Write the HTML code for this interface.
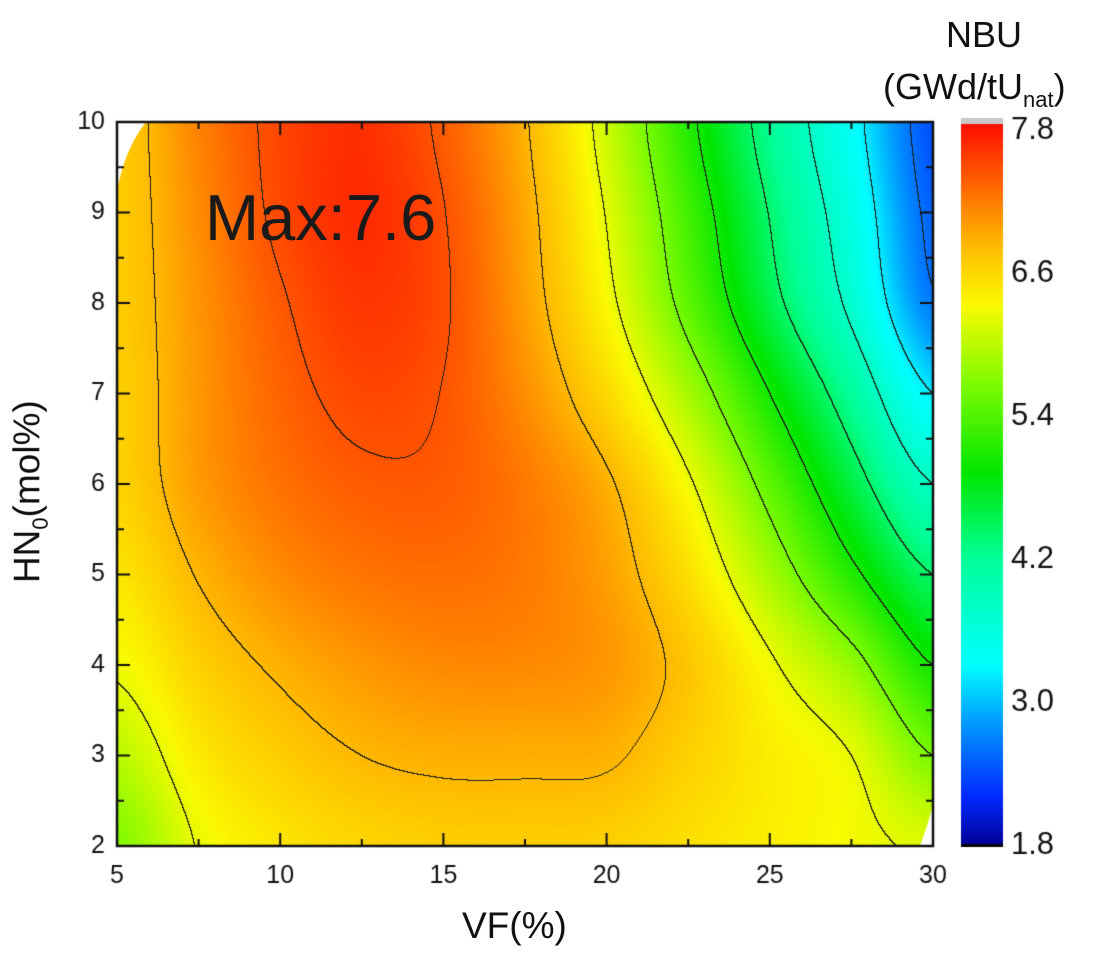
<!DOCTYPE html>
<html><head><meta charset="utf-8">
<style>
html,body{margin:0;padding:0;background:#fff;}
body{width:1104px;height:960px;position:relative;overflow:hidden;font-family:"Liberation Sans",sans-serif;color:#111;}
canvas{position:absolute;left:0;top:0;}
.t{position:absolute;white-space:nowrap;}
</style></head><body>
<canvas id="c" width="1104" height="960"></canvas>
<div class="t" style="left:205px;top:180px;font-size:65px;color:#1a1a1a;">Max:7.6</div>
<div class="t" style="left:462px;top:905px;font-size:37px;">VF(%)</div>
<div class="t" style="left:-80px;top:468px;font-size:37px;transform:rotate(-90deg);transform-origin:center;width:220px;text-align:center;">HN<sub style="font-size:22px">0</sub>(mol%)</div>
<div class="t" style="left:946px;top:14px;font-size:36px;">NBU</div>
<div class="t" style="left:883px;top:66px;font-size:36px;">(GWd/tU<sub style="font-size:22px">nat</sub>)</div>
<script>
const X0=117,X1=933,Y0=122,Y1=846;
const G=[
[5.65,6.22,6.45,6.58,6.64,6.65,6.62,6.5,6.38,6.28,6.15],
[5.95,6.42,6.65,6.8,6.86,6.86,6.84,6.62,6.4,6.2,5.6],
[6.25,6.62,6.85,7.0,7.08,7.08,7.0,6.7,6.25,5.75,5.0],
[6.45,6.82,7.07,7.2,7.24,7.17,6.95,6.5,5.85,5.1,4.4],
[6.6,6.98,7.22,7.35,7.35,7.17,6.85,6.25,5.45,4.6,3.8],
[6.63,7.0,7.3,7.47,7.39,7.05,6.55,5.85,5.0,4.15,3.2],
[6.65,7.02,7.37,7.57,7.43,6.95,6.3,5.45,4.55,3.7,2.65],
[6.65,7.07,7.46,7.63,7.41,6.9,6.18,5.28,4.38,3.52,2.5],
[6.65,7.12,7.48,7.61,7.34,6.83,6.05,5.1,4.2,3.35,2.4]];
function cr(p0,p1,p2,p3,t){return 0.5*((2*p1)+(-p0+p2)*t+(2*p0-5*p1+4*p2-p3)*t*t+(-p0+3*p1-3*p2+p3)*t*t*t);}
function g(r,c){r=Math.max(0,Math.min(8,r));c=Math.max(0,Math.min(10,c));return G[r][c];}
function f(vf,hn){const cx=(vf-5)/2.5,ry=hn-2;let c=Math.min(9,Math.floor(cx)),r=Math.min(7,Math.floor(ry));const tx=cx-c,ty=ry-r;const rows=[];for(let k=-1;k<=2;k++){rows.push(cr(g(r+k,c-1),g(r+k,c),g(r+k,c+1),g(r+k,c+2),tx));}return cr(rows[0],rows[1],rows[2],rows[3],ty);}
const S=[[1.8,0,0,150],[2.2,0,40,255],[2.8,0,150,255],[3.3,0,255,255],[4.2,0,255,150],[4.9,0,230,0],[5.6,120,250,0],[6.3,250,250,0],[6.8,255,185,0],[7.3,255,100,0],[7.8,255,15,0]];
function cm(v){if(v<=S[0][0])return S[0].slice(1);for(let i=1;i<S.length;i++){if(v<=S[i][0]){const a=S[i-1],b=S[i],t=(v-a[0])/(b[0]-a[0]);return [a[1]+(b[1]-a[1])*t,a[2]+(b[2]-a[2])*t,a[3]+(b[3]-a[3])*t];}}return S[S.length-1].slice(1);}
const cv=document.getElementById('c'),ctx=cv.getContext('2d');
const W=X1-X0,H=Y1-Y0;const img=ctx.createImageData(W,H);
const F=new Float32Array((W+1)*(H+1));
for(let y=0;y<=H;y++)for(let x=0;x<=W;x++){F[y*(W+1)+x]=f(5+25*x/W,10-8*y/H);}
function lv(v){return Math.floor((v-2.6)/0.6);}
for(let y=0;y<H;y++)for(let x=0;x<W;x++){const v=F[y*(W+1)+x];let col=cm(v);const l=lv(v);
if(l!==lv(F[y*(W+1)+x+1])||l!==lv(F[(y+1)*(W+1)+x])){col=[30,30,20];}
const i=(y*W+x)*4;img.data[i]=col[0];img.data[i+1]=col[1];img.data[i+2]=col[2];img.data[i+3]=255;}
ctx.putImageData(img,X0,Y0);
ctx.fillStyle='#fff';ctx.beginPath();ctx.moveTo(X0,Y0);ctx.lineTo(146,Y0);ctx.quadraticCurveTo(124,150,X0,192);ctx.closePath();ctx.fill();
ctx.beginPath();ctx.moveTo(X1,Y1);ctx.lineTo(920,Y1);ctx.quadraticCurveTo(928,825,X1,805);ctx.closePath();ctx.fill();
ctx.strokeStyle='#111';ctx.lineWidth=2.5;ctx.strokeRect(X0,Y0,W,H);
ctx.lineWidth=2;ctx.fillStyle='#111';ctx.font='25px "Liberation Sans", sans-serif';ctx.textAlign='center';ctx.textBaseline='middle';
for(let k=0;k<=10;k++){const x=X0+W*k/10,len=k%2?7:13;ctx.beginPath();ctx.moveTo(x,Y1);ctx.lineTo(x,Y1-len);ctx.moveTo(x,Y0);ctx.lineTo(x,Y0+len);ctx.stroke();if(k%2==0)ctx.fillText(String(5+k*2.5),x,Y1+30);}
ctx.textAlign='right';
for(let k=0;k<=16;k++){const y=Y1-H*k/16,len=k%2?7:13;ctx.beginPath();ctx.moveTo(X0,y);ctx.lineTo(X0+len,y);ctx.moveTo(X1,y);ctx.lineTo(X1-len,y);ctx.stroke();if(k%2==0)ctx.fillText(String(2+k/2),X0-12,y);}
const CX=961,CW=42,CT=124,CB=845;
for(let y=CT;y<CB;y++){const v=1.8+(CB-y)/(CB-CT)*6;const c=cm(v);ctx.fillStyle='rgb('+c.map(Math.round).join(',')+')';ctx.fillRect(CX,y,CW,1);}
ctx.fillStyle='#c8c8c8';ctx.fillRect(CX,118,CW,6);
ctx.fillStyle='#000';ctx.fillRect(CX,CB-1,CW,3);
ctx.fillStyle='#111';ctx.textAlign='left';ctx.font='31px "Liberation Sans", sans-serif';
['1.8','3.0','4.2','5.4','6.6','7.8'].forEach((s,i)=>{const y=CB-i*(CB-CT-6)/5;ctx.fillText(s,1011,y);});
</script>
</body></html>
